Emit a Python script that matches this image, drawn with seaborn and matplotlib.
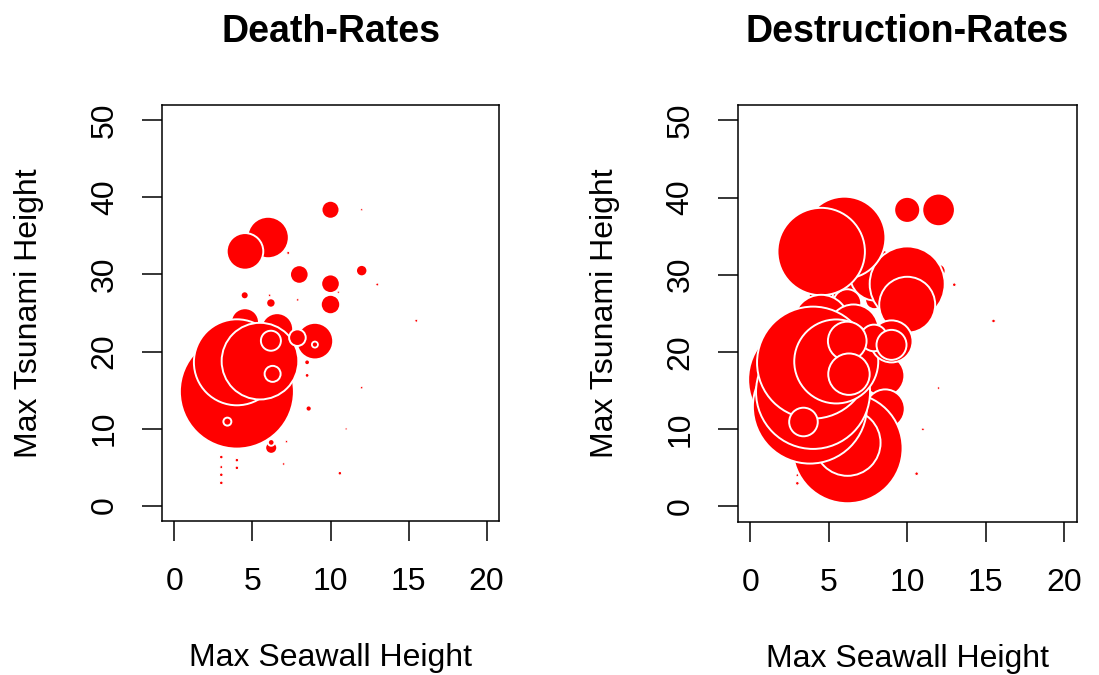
import numpy as np
import pandas as pd
import seaborn as sns
import matplotlib.pyplot as plt

# one row per tsunami event: wall height, wave height, and the two rates (% of the largest)
seawall = [3.0, 3.0, 3.0, 3.0, 4.0, 4.0, 7.0, 10.6, 11.0, 12.0, 15.5, 13.0,
           12.0, 10.0, 7.18, 7.14, 10.5, 7.29, 6.1, 7.9, 8.5, 8.5, 8.6, 12.0,
           8.0, 10.0, 10.0, 4.5, 6.18, 6.0, 4.52, 6.2, 6.2, 3.5, 3.8, 4.52,
           6.58, 4.0, 4.0, 5.48, 9.0, 7.88, 9.0, 6.18, 6.29, 3.39]
tsunami = [2.95, 4.0, 5.0, 6.3, 5.9, 4.9, 5.4, 4.2, 9.95, 15.3, 24.0, 28.7,
           38.4, 38.4, 8.3, 19.3, 27.7, 32.8, 27.3, 26.7, 18.6, 16.9, 12.6, 30.5,
           30.0, 28.8, 26.1, 27.3, 26.3, 34.8, 33.0, 7.5, 8.2, 16.4, 12.9, 23.8,
           22.9, 14.8, 18.6, 18.75, 21.35, 21.8, 20.9, 21.4, 17.1, 10.9]
death_rate = [0.1, 0.1, 0.06, 0.1, 0.1, 0.1, 0.04, 0.1, 0.03, 0.04, 0.06, 0.06,
              0.03, 2.49, 0.04, 0.03, 0.03, 0.06, 0.04, 0.04, 0.22, 0.12, 0.28, 1.0,
              2.66, 2.66, 2.90, 0.49, 0.68, 13.2, 10.3, 1.11, 0.34, 0.03, 0.03, 6.03,
              7.88, 100.0, 56.9, 45.2, 10.3, 2.12, 0.28, 3.08, 1.97, 0.49]
destruction_rate = [0.1, 0.05, 0.03, 0.04, 0.04, 0.04, 0.04, 0.1, 0.05, 0.04, 0.1, 0.1,
                    8.18, 5.20, 0.04, 0.04, 0.04, 0.5, 6.93, 2.49, 0.77, 13.2, 11.7, 1.51,
                    20.8, 43.3, 24.1, 4.43, 6.03, 51.7, 58.8, 93.1, 33.5, 110.8, 110.8, 23.6,
                    19.2, 100.0, 96.5, 54.3, 13.6, 5.44, 6.93, 11.5, 13.2, 6.29]

FULL_R_PX = 57                       # radius of a 100% bubble in pixels
S_FULL = (2 * FULL_R_PX * 72 / 100) ** 2

sns.set_style("white")
plt.rcParams["font.family"] = ["Liberation Sans", "DejaVu Sans"]
plt.rcParams["text.color"] = "black"
plt.rcParams["axes.labelcolor"] = "black"

fig = plt.figure(figsize=(10.99, 6.75), dpi=100)
ax1 = fig.add_axes([162 / 1099, 1 - 521 / 675, 337 / 1099, 416 / 675])
ax2 = fig.add_axes([737.7 / 1099, 1 - 521.5 / 675, 339 / 1099, 416.5 / 675])


def bubble_panel(ax, rate, title):
    df = pd.DataFrame({"seawall": seawall, "tsunami": tsunami, "rate": rate})
    diam = 2 * FULL_R_PX * 0.72 * np.sqrt(df["rate"] / 100)
    lw = np.clip(0.3 * diam, 0.2, 1.4)
    sns.scatterplot(data=df, x="seawall", y="tsunami", size="rate",
                    size_norm=(0, 100), sizes=(0, S_FULL), color="red",
                    edgecolor="white", linewidth=lw, alpha=1, legend=False, ax=ax)
    ax.set_xlim(-0.8, 20.8)
    ax.set_ylim(-2, 52)
    ax.set_xticks([0, 5, 10, 15, 20])
    ax.set_yticks([0, 10, 20, 30, 40, 50])
    ax.tick_params(direction="out", length=14.4, width=1.1, labelsize=23,
                   colors="black", left=True, bottom=True)
    ax.tick_params(axis="x", pad=19)
    ax.tick_params(axis="y", pad=16)
    plt.setp(ax.get_yticklabels(), rotation=90, va="center")
    for sp in ax.spines.values():
        sp.set_visible(True)
        sp.set_color("black")
        sp.set_linewidth(1.1)
    ax.set_xlabel("Max Seawall Height", fontsize=23, labelpad=33)
    ax.set_ylabel("Max Tsunami Height", fontsize=23, labelpad=33)
    ax.set_title(title, fontsize=27, fontweight="bold", pad=45, color="black")


bubble_panel(ax1, death_rate, "Death-Rates")
bubble_panel(ax2, destruction_rate, "Destruction-Rates")

fig.savefig("out.png", dpi=100)
